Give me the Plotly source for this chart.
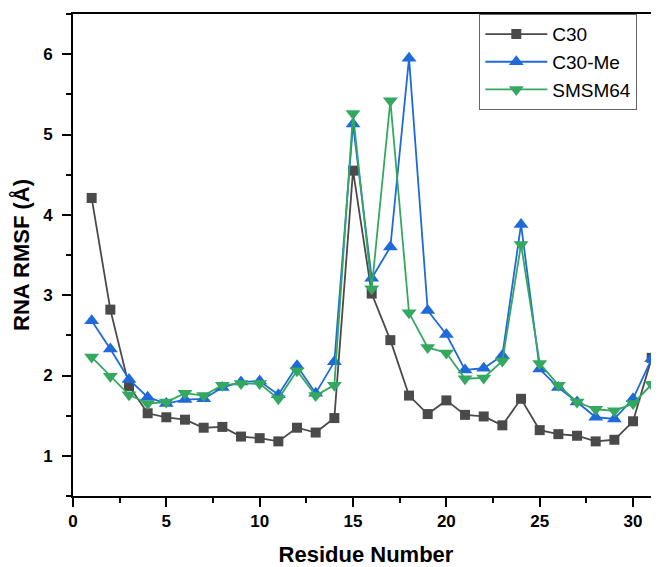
import plotly.graph_objects as go

residues = list(range(1, 33))
c30 = [4.21, 2.82, 1.87, 1.53, 1.48, 1.45, 1.35, 1.36, 1.24, 1.22, 1.18, 1.35, 1.29, 1.47,
       4.55, 3.02, 2.44, 1.75, 1.52, 1.69, 1.51, 1.49, 1.38, 1.71, 1.32, 1.27, 1.25, 1.18,
       1.20, 1.43, 2.22, 3.95]
c30_me = [2.68, 2.33, 1.95, 1.73, 1.65, 1.70, 1.71, 1.85, 1.92, 1.93, 1.76, 2.12, 1.78, 2.17,
          5.13, 3.21, 3.60, 5.95, 2.81, 2.51, 2.07, 2.09, 2.25, 3.88, 2.08, 1.85, 1.67, 1.48,
          1.46, 1.71, 2.21, 2.80]
smsm64 = [2.23, 1.99, 1.76, 1.65, 1.67, 1.78, 1.75, 1.88, 1.90, 1.90, 1.71, 2.06, 1.75, 1.88,
          5.26, 3.08, 5.42, 2.78, 2.35, 2.28, 1.96, 1.97, 2.18, 3.63, 2.15, 1.88, 1.67, 1.58,
          1.56, 1.65, 1.89, 2.38]

FONT = "Arial, 'Liberation Sans', sans-serif"

fig = go.Figure()
fig.add_trace(go.Scatter(x=residues, y=c30, name="C30", mode="lines+markers",
                         line=dict(color="#4a4a4a", width=1.8),
                         marker=dict(symbol="square", size=10, color="#4a4a4a")))
fig.add_trace(go.Scatter(x=residues, y=c30_me, name="C30-Me", mode="lines+markers",
                         line=dict(color="#1f6ad9", width=1.8),
                         marker=dict(symbol="triangle-up", size=13, color="#1f6ad9")))
fig.add_trace(go.Scatter(x=residues, y=smsm64, name="SMSM64", mode="lines+markers",
                         line=dict(color="#35a860", width=1.8),
                         marker=dict(symbol="triangle-down", size=13, color="#35a860")))

# The page body adds an 8px offset; margins compensate so the plot sits where the reference does.
fig.update_layout(
    width=651, height=567,
    margin=dict(l=65, r=0, t=6, b=79, autoexpand=False),
    paper_bgcolor="white", plot_bgcolor="white",
    font=dict(family=FONT, color="black"),
    showlegend=True,
    legend=dict(x=0.693, y=1.0, xanchor="left", yanchor="top",
                bordercolor="#666666", borderwidth=1.2, bgcolor="white",
                font=dict(size=19, family=FONT, color="black"),
                itemwidth=62, tracegroupgap=0, entrywidth=175),
)
fig.update_xaxes(
    range=[0, 31.39], dtick=5, tick0=0, automargin=False,
    showline=True, linecolor="black", linewidth=2, mirror=True,
    ticks="outside", ticklen=9, tickwidth=2, tickcolor="black",
    minor=dict(dtick=2.5, tick0=0, ticks="outside", ticklen=5, tickwidth=2, tickcolor="black"),
    showgrid=False, zeroline=False,
    tickfont=dict(size=17, family=FONT, color="black", weight="bold"),
    title=dict(text="<b>Residue Number</b>", font=dict(size=22, family=FONT, color="black"), standoff=16),
)
fig.update_yaxes(
    range=[0.5, 6.5], dtick=1, tick0=0, automargin=False,
    showline=True, linecolor="black", linewidth=2, mirror=False,
    ticks="outside", ticklen=9, tickwidth=2, tickcolor="black",
    minor=dict(dtick=0.5, tick0=0, ticks="outside", ticklen=5, tickwidth=2, tickcolor="black"),
    showgrid=False, zeroline=False,
    tickfont=dict(size=17, family=FONT, color="black", weight="bold"),
    ticklabelstandoff=6,
    title=dict(text="<b>RNA RMSF (Å)</b>", font=dict(size=22, family=FONT, color="black"), standoff=14),
)

fig.write_html("out.html")
